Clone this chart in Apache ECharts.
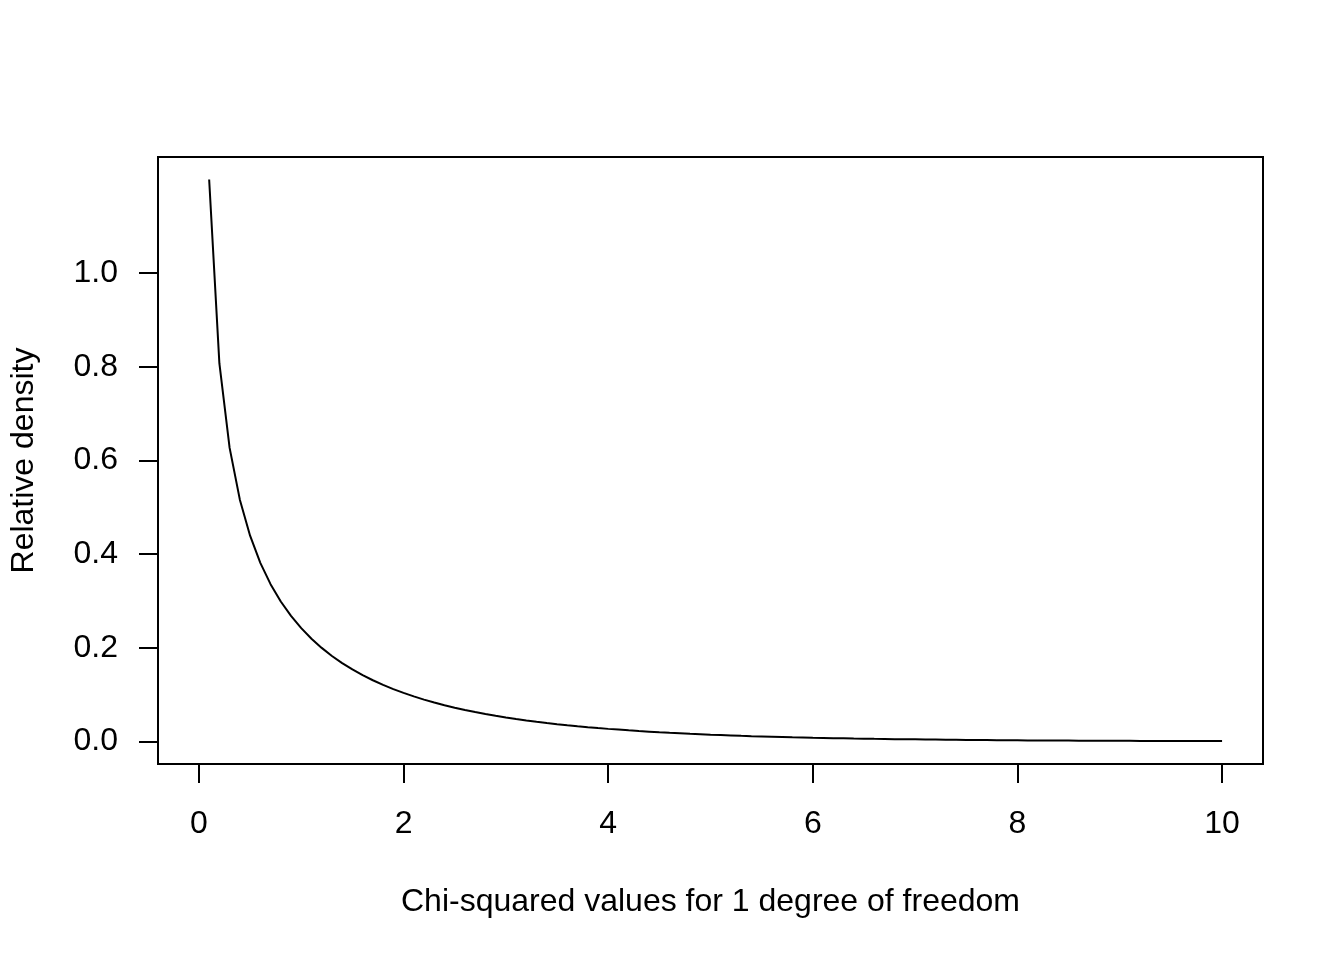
<!DOCTYPE html>
<html>
<head>
<meta charset="utf-8">
<script src="https://cdn.jsdelivr.net/npm/echarts@6/dist/echarts.min.js"></script>
<style>
html,body{margin:0;padding:0;background:#fff;}
#chart{width:1344px;height:960px;}
</style>
</head>
<body>
<div id="chart"></div>
<script>
const xValues = [0.1,0.2,0.3,0.4,0.5,0.6,0.7,0.8,0.9,1.0,
1.1,1.2,1.3,1.4,1.5,1.6,1.7,1.8,1.9,2.0,
2.1,2.2,2.3,2.4,2.5,2.6,2.7,2.8,2.9,3.0,
3.1,3.2,3.3,3.4,3.5,3.6,3.7,3.8,3.9,4.0,
4.1,4.2,4.3,4.4,4.5,4.6,4.7,4.8,4.9,5.0,
5.1,5.2,5.3,5.4,5.5,5.6,5.7,5.8,5.9,6.0,
6.1,6.2,6.3,6.4,6.5,6.6,6.7,6.8,6.9,7.0,
7.1,7.2,7.3,7.4,7.5,7.6,7.7,7.8,7.9,8.0,
8.1,8.2,8.3,8.4,8.5,8.6,8.7,8.8,8.9,9.0,
9.1,9.2,9.3,9.4,9.5,9.6,9.7,9.8,9.9,10.0];
const density = [1.2000,0.8072,0.6269,0.5164,0.4394,0.3815,0.3360,0.2990,0.2681,0.2420,
0.2195,0.1999,0.1827,0.1674,0.1539,0.1417,0.1308,0.1209,0.1119,0.1038,
0.0963,0.0895,0.0833,0.0776,0.0723,0.0674,0.0629,0.0588,0.0550,0.0514,
0.0481,0.0450,0.0422,0.0395,0.0371,0.0348,0.0326,0.0306,0.0287,0.0270,
0.0254,0.0238,0.0224,0.0211,0.0198,0.0186,0.0176,0.0165,0.0156,0.0146,
0.0138,0.0130,0.0122,0.0115,0.0109,0.0103,0.0097,0.0091,0.0086,0.0081,
0.0077,0.0072,0.0068,0.0064,0.0061,0.0057,0.0054,0.0051,0.0048,0.0046,
0.0043,0.0041,0.0038,0.0036,0.0034,0.0032,0.0031,0.0029,0.0027,0.0026,
0.0024,0.0023,0.0022,0.0021,0.0020,0.0019,0.0017,0.0017,0.0016,0.0015,
0.0014,0.0013,0.0013,0.0012,0.0011,0.0011,0.0010,0.0009,0.0009,0.0009];
const xTicks = [0,2,4,6,8,10];
const yTicks = [0.0,0.2,0.4,0.6,0.8,1.0];
const xTitle = 'Chi-squared values for 1 degree of freedom';
const yTitle = 'Relative density';

const font = '"Liberation Sans", Arial, Helvetica, sans-serif';
const chart = echarts.init(document.getElementById('chart'), null, {renderer:'canvas'});
chart.setOption({
  backgroundColor:'#ffffff',
  animation:false,
  grid:{left:157,right:81,top:157,bottom:196,show:true,borderColor:'#000',borderWidth:2,backgroundColor:'transparent',containLabel:false},
  xAxis:{
    type:'value',min:-0.4,max:10.4,
    name:xTitle,nameLocation:'middle',nameGap:122,
    nameTextStyle:{color:'#000',fontSize:32,fontFamily:font},
    axisLine:{show:true,onZero:false,lineStyle:{color:'#000',width:2}},
    axisTick:{show:true,customValues:xTicks,length:19,inside:false,lineStyle:{color:'#000',width:2}},
    axisLabel:{show:true,customValues:xTicks,margin:44,color:'#000',fontSize:32,fontFamily:font,formatter:v=>String(v)},
    splitLine:{show:false}
  },
  yAxis:{
    type:'value',min:-0.048,max:1.248,
    name:yTitle,nameLocation:'middle',nameGap:118,nameRotate:90,
    nameTextStyle:{color:'#000',fontSize:32,fontFamily:font},
    axisLine:{show:true,onZero:false,lineStyle:{color:'#000',width:2}},
    axisTick:{show:true,customValues:yTicks,length:19,inside:false,lineStyle:{color:'#000',width:2}},
    axisLabel:{show:true,customValues:yTicks,margin:40,color:'#000',fontSize:32,fontFamily:font,formatter:v=>Number(v).toFixed(1)},
    splitLine:{show:false}
  },
  series:[{
    type:'line',
    data:xValues.map((x,i)=>[x,density[i]]),
    showSymbol:false,symbol:'none',
    lineStyle:{color:'#000',width:2},
    clip:true
  }]
});
</script>
</body>
</html>
